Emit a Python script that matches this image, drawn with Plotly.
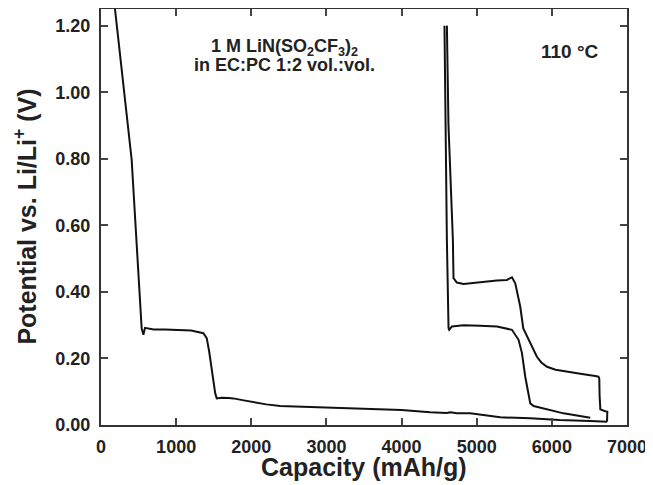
import plotly.graph_objects as go

# First discharge (lithiation)
dis1_x = [186, 342, 408, 541, 564, 586, 700, 850, 1008, 1200, 1362, 1407, 1440, 1470, 1496, 1520, 1540,
          1570, 1607, 1700, 1762, 1900, 2028, 2200, 2383, 2650, 2827, 3200, 3715, 4000, 4381, 4600, 4650,
          4736, 4913, 5313, 5712, 6100, 6511, 6734]
dis1_y = [1.25, 0.929, 0.797, 0.291, 0.271, 0.292, 0.287, 0.287, 0.286, 0.284, 0.276, 0.261, 0.22, 0.17,
          0.125, 0.095, 0.080, 0.081, 0.082, 0.081, 0.080, 0.074, 0.068, 0.062, 0.057, 0.055, 0.053, 0.050,
          0.047, 0.045, 0.038, 0.036, 0.038, 0.035, 0.035, 0.023, 0.020, 0.015, 0.012, 0.010]

# Charge (delithiation), plotted back toward lower capacity
chg_x = [6734, 6740, 6738, 6700, 6645, 6635, 6631, 6620, 6578, 6400, 6201, 6050, 5935, 5860, 5801, 5740,
         5668, 5620, 5579, 5513, 5469, 5402, 5269, 5047, 4825, 4736, 4691, 4683, 4624, 4603]
chg_y = [0.010, 0.025, 0.040, 0.042, 0.047, 0.09, 0.140, 0.145, 0.147, 0.153, 0.160, 0.166, 0.175, 0.188,
         0.205, 0.235, 0.266, 0.29, 0.356, 0.426, 0.444, 0.436, 0.434, 0.429, 0.424, 0.428, 0.441, 0.556,
         0.902, 1.20]

# Second discharge
dis2_x = [4571, 4585, 4603, 4625, 4634, 4670, 4825, 5047, 5269, 5469, 5535, 5557, 5602, 5646, 5713, 5757,
          6156, 6511]
dis2_y = [1.20, 0.902, 0.556, 0.291, 0.286, 0.296, 0.300, 0.298, 0.296, 0.286, 0.266, 0.256, 0.216, 0.145,
          0.065, 0.057, 0.035, 0.022]

x_ticks = [0, 1000, 2000, 3000, 4000, 5000, 6000, 7000]
y_ticks = [0.0, 0.2, 0.4, 0.6, 0.8, 1.0, 1.2]

x_title = "Capacity (mAh/g)"
y_title = "Potential vs. Li/Li<sup>+</sup> (V)"

FONT = "Liberation Sans, Arial, sans-serif"
INK = "#222222"

fig = go.Figure()
for xs, ys in [(dis1_x, dis1_y), (chg_x, chg_y), (dis2_x, dis2_y)]:
    fig.add_trace(go.Scatter(x=xs, y=ys, mode="lines",
                             line=dict(color="#111111", width=2), showlegend=False))

tf = dict(family=FONT, size=18, color=INK, weight="bold")
axis_common = dict(showline=True, mirror="ticks", linecolor="#333333", linewidth=2,
                   ticks="inside", ticklen=7, tickwidth=1.5, tickcolor="#444444",
                   showgrid=False, zeroline=False, tickfont=tf, automargin=False)

fig.update_xaxes(range=[0, 7000], tickvals=x_ticks, ticktext=[str(v) for v in x_ticks],
                 ticklabelstandoff=4, **axis_common)
fig.update_yaxes(range=[0, 1.25], tickvals=y_ticks, ticktext=[f"{v:.2f}" for v in y_ticks],
                 ticklabelstandoff=5, **axis_common)

title_font = dict(family=FONT, size=25, color=INK, weight="bold")
fig.add_annotation(xref="paper", yref="paper", x=0.5, y=-0.101, text=x_title, showarrow=False,
                   font=title_font, xanchor="center", yanchor="middle")
fig.add_annotation(xref="paper", yref="paper", x=-0.1445, y=0.501, text=y_title, showarrow=False,
                   font=title_font, textangle=-90, xanchor="center", yanchor="middle")

af = dict(family=FONT, size=18, color=INK, weight="bold")
fig.add_annotation(x=2437, y=1.134, text="1 M LiN(SO<sub>2</sub>CF<sub>3</sub>)<sub>2</sub>",
                   showarrow=False, font=af, xanchor="center", yanchor="middle")
fig.add_annotation(x=2437, y=1.083, text="in EC:PC 1:2 vol.:vol.",
                   showarrow=False, font=af, xanchor="center", yanchor="middle")
fig.add_annotation(x=6245, y=1.122, text="110 °C",
                   showarrow=False, font=dict(family=FONT, size=19, color=INK, weight="bold"),
                   xanchor="center", yanchor="middle")

# page body has an 8px default margin, so the figure is shrunk/offset to compensate
fig.update_layout(width=645, height=477, margin=dict(l=93, r=26, t=1, b=60, autoexpand=False),
                  plot_bgcolor="white", paper_bgcolor="white")

fig.write_html("out.html")
